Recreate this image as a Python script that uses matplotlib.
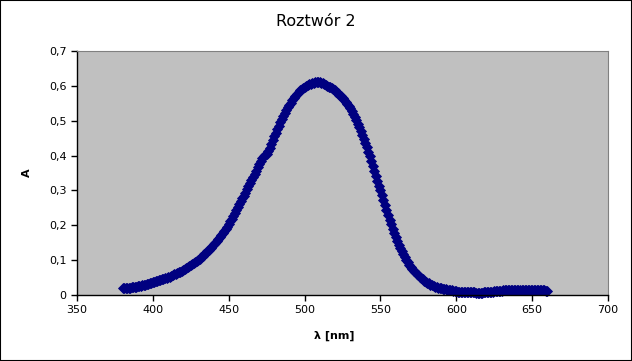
import matplotlib
matplotlib.use("Agg")
import matplotlib.pyplot as plt
from matplotlib.patches import Rectangle
from matplotlib.ticker import FuncFormatter

# wavelength [nm], every 1 nm
wavelength = list(range(380, 661))

# absorbance
absorbance = [
    0.019, 0.019, 0.020, 0.020, 0.021, 0.021, 0.022, 0.023, 0.024, 0.024,
    0.025, 0.026, 0.027, 0.028, 0.029, 0.030, 0.031, 0.032, 0.034, 0.035,
    0.037, 0.038, 0.040, 0.041, 0.043, 0.044, 0.046, 0.047, 0.049, 0.050,
    0.052, 0.053, 0.055, 0.057, 0.059, 0.061, 0.063, 0.065, 0.067, 0.069,
    0.072, 0.074, 0.077, 0.079, 0.082, 0.085, 0.088, 0.091, 0.094, 0.097,
    0.100, 0.104, 0.108, 0.112, 0.117, 0.121, 0.126, 0.130, 0.135, 0.140,
    0.145, 0.150, 0.156, 0.161, 0.167, 0.172, 0.178, 0.184, 0.190, 0.196,
    0.203, 0.211, 0.219, 0.227, 0.236, 0.244, 0.253, 0.261, 0.269, 0.277,
    0.285, 0.294, 0.303, 0.312, 0.321, 0.330, 0.339, 0.348, 0.357, 0.366,
    0.375, 0.384, 0.393, 0.398, 0.402, 0.405, 0.412, 0.422, 0.433, 0.444,
    0.455, 0.465, 0.475, 0.485, 0.495, 0.504, 0.513, 0.522, 0.530, 0.538,
    0.545, 0.552, 0.559, 0.566, 0.572, 0.578, 0.583, 0.587, 0.591, 0.594,
    0.597, 0.600, 0.602, 0.604, 0.606, 0.608, 0.609, 0.610, 0.611, 0.611,
    0.610, 0.609, 0.607, 0.605, 0.603, 0.601, 0.598, 0.596, 0.593, 0.590,
    0.587, 0.583, 0.579, 0.575, 0.570, 0.565, 0.560, 0.555, 0.549, 0.543,
    0.536, 0.528, 0.520, 0.511, 0.502, 0.492, 0.482, 0.471, 0.460, 0.448,
    0.436, 0.424, 0.411, 0.398, 0.384, 0.370, 0.356, 0.342, 0.328, 0.314,
    0.300, 0.286, 0.272, 0.258, 0.244, 0.230, 0.216, 0.203, 0.190, 0.177,
    0.165, 0.154, 0.143, 0.134, 0.125, 0.117, 0.109, 0.101, 0.094, 0.087,
    0.081, 0.075, 0.070, 0.065, 0.060, 0.056, 0.052, 0.048, 0.045, 0.041,
    0.038, 0.035, 0.033, 0.030, 0.028, 0.026, 0.024, 0.022, 0.021, 0.020,
    0.019, 0.018, 0.017, 0.016, 0.015, 0.014, 0.013, 0.013, 0.012, 0.011,
    0.011, 0.010, 0.010, 0.010, 0.009, 0.009, 0.009, 0.008, 0.008, 0.008,
    0.008, 0.008, 0.008, 0.007, 0.007, 0.007, 0.007, 0.007, 0.008, 0.008,
    0.008, 0.009, 0.009, 0.010, 0.010, 0.011, 0.011, 0.012, 0.012, 0.012,
    0.012, 0.013, 0.013, 0.013, 0.013, 0.014, 0.014, 0.014, 0.014, 0.015,
    0.015, 0.015, 0.015, 0.015, 0.015, 0.015, 0.015, 0.015, 0.015, 0.015,
    0.015, 0.015, 0.014, 0.014, 0.014, 0.014, 0.013, 0.013, 0.013, 0.012,
    0.012,
]

x_ticks = [350, 400, 450, 500, 550, 600, 650, 700]
y_ticks = [0, 0.1, 0.2, 0.3, 0.4, 0.5, 0.6, 0.7]

fig = plt.figure(figsize=(6.32, 3.61), dpi=100)
fig.patch.set_facecolor("white")
ax = fig.add_axes([77 / 632, 1 - 295 / 361, 531 / 632, 244 / 361])
ax.set_facecolor("#c0c0c0")

ax.plot(wavelength, absorbance, linestyle="none", marker="D", markersize=4.8,
        color="#000080", markeredgewidth=0.6, clip_on=False)

ax.set_xlim(350, 700)
ax.set_ylim(0, 0.7)
ax.set_xticks(x_ticks)
ax.set_yticks(y_ticks)
ax.yaxis.set_major_formatter(FuncFormatter(
    lambda v, p: "0" if v == 0 else f"{v:.1f}".replace(".", ",")))
ax.tick_params(direction="out", length=4, width=1, labelsize=8, colors="black")

for s in ["top", "right"]:
    ax.spines[s].set_color("#808080")
    ax.spines[s].set_linewidth(0.8)
for s in ["left", "bottom"]:
    ax.spines[s].set_color("black")
    ax.spines[s].set_linewidth(1)

ax.set_xlabel("λ [nm]", fontsize=8, fontweight="bold")
ax.set_ylabel("A", fontsize=8, fontweight="bold")
ax.xaxis.set_label_coords(0.484, -0.145)
ax.yaxis.set_label_coords(-0.085, 0.5)

fig.text(0.5, 1 - 22 / 361, "Roztwór 2", ha="center", va="center", fontsize=11.5)

fig.patches.append(Rectangle((0, 0), 1, 1, transform=fig.transFigure,
                             fill=False, edgecolor="black", linewidth=1.5))

fig.savefig("out.png", dpi=100)
